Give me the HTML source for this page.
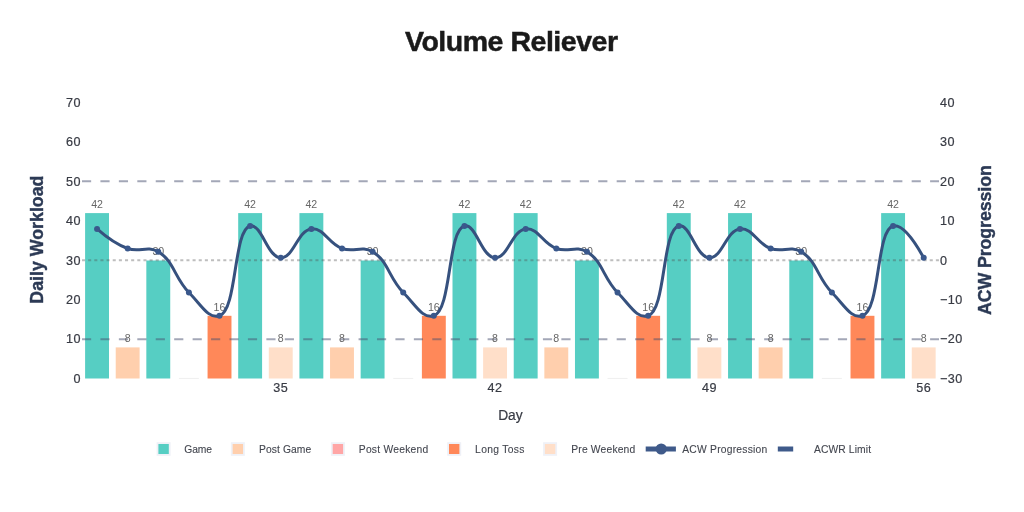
<!DOCTYPE html>
<html lang="en"><head><meta charset="utf-8"><title>Volume Reliever</title>
<style>html,body{margin:0;padding:0;background:#fff;width:1024px;height:512px;overflow:hidden}</style></head>
<body>
<svg width="1024" height="512" viewBox="0 0 1024 512" style="display:block;font-family:'Liberation Sans', Arial, sans-serif">
<rect width="1024" height="512" fill="#fff"/>
<text x="511.5" y="50.8" text-anchor="middle" font-size="28.5" font-weight="700" fill="#1a1a1a" stroke="#1a1a1a" stroke-width="0.5" textLength="213" lengthAdjust="spacing">Volume Reliever</text>
<g><rect x="85.10" y="213.10" width="23.9" height="165.40" fill="#56cec3"/><rect x="115.72" y="347.40" width="23.9" height="31.10" fill="#ffcfad"/><rect x="146.33" y="260.50" width="23.9" height="118.00" fill="#56cec3"/><rect x="178.90" y="377.90" width="20" height="1" fill="#efefef"/><rect x="207.57" y="315.80" width="23.9" height="62.70" fill="#ff8859"/><rect x="238.19" y="213.10" width="23.9" height="165.40" fill="#56cec3"/><rect x="268.80" y="347.40" width="23.9" height="31.10" fill="#ffdfc9"/><rect x="299.42" y="213.10" width="23.9" height="165.40" fill="#56cec3"/><rect x="330.04" y="347.40" width="23.9" height="31.10" fill="#ffcfad"/><rect x="360.65" y="260.50" width="23.9" height="118.00" fill="#56cec3"/><rect x="393.22" y="377.90" width="20" height="1" fill="#efefef"/><rect x="421.89" y="315.80" width="23.9" height="62.70" fill="#ff8859"/><rect x="452.50" y="213.10" width="23.9" height="165.40" fill="#56cec3"/><rect x="483.12" y="347.40" width="23.9" height="31.10" fill="#ffdfc9"/><rect x="513.74" y="213.10" width="23.9" height="165.40" fill="#56cec3"/><rect x="544.35" y="347.40" width="23.9" height="31.10" fill="#ffcfad"/><rect x="574.97" y="260.50" width="23.9" height="118.00" fill="#56cec3"/><rect x="607.54" y="377.90" width="20" height="1" fill="#efefef"/><rect x="636.21" y="315.80" width="23.9" height="62.70" fill="#ff8859"/><rect x="666.82" y="213.10" width="23.9" height="165.40" fill="#56cec3"/><rect x="697.44" y="347.40" width="23.9" height="31.10" fill="#ffdfc9"/><rect x="728.06" y="213.10" width="23.9" height="165.40" fill="#56cec3"/><rect x="758.67" y="347.40" width="23.9" height="31.10" fill="#ffcfad"/><rect x="789.29" y="260.50" width="23.9" height="118.00" fill="#56cec3"/><rect x="821.86" y="377.90" width="20" height="1" fill="#efefef"/><rect x="850.52" y="315.80" width="23.9" height="62.70" fill="#ff8859"/><rect x="881.14" y="213.10" width="23.9" height="165.40" fill="#56cec3"/><rect x="911.76" y="347.40" width="23.9" height="31.10" fill="#ffdfc9"/></g>
<g fill="none">
<path d="M82,181.20H939" stroke="#485070" stroke-opacity="0.5" stroke-width="2" stroke-dasharray="9.15,9.287"/>
<path d="M82,339.20H939" stroke="#485070" stroke-opacity="0.5" stroke-width="2" stroke-dasharray="9.15,9.287"/>
<path d="M82,260.20H939" stroke="#505050" stroke-opacity="0.37" stroke-width="2" stroke-dasharray="3.05,3.093"/>
</g>
<g font-size="10.6" fill="#666666"><text x="97.05" y="207.90" text-anchor="middle">42</text><text x="127.67" y="342.20" text-anchor="middle">8</text><text x="158.28" y="255.30" text-anchor="middle">30</text><text x="219.52" y="310.60" text-anchor="middle">16</text><text x="250.13" y="207.90" text-anchor="middle">42</text><text x="280.75" y="342.20" text-anchor="middle">8</text><text x="311.37" y="207.90" text-anchor="middle">42</text><text x="341.99" y="342.20" text-anchor="middle">8</text><text x="372.60" y="255.30" text-anchor="middle">30</text><text x="433.84" y="310.60" text-anchor="middle">16</text><text x="464.45" y="207.90" text-anchor="middle">42</text><text x="495.07" y="342.20" text-anchor="middle">8</text><text x="525.69" y="207.90" text-anchor="middle">42</text><text x="556.30" y="342.20" text-anchor="middle">8</text><text x="586.92" y="255.30" text-anchor="middle">30</text><text x="648.16" y="310.60" text-anchor="middle">16</text><text x="678.77" y="207.90" text-anchor="middle">42</text><text x="709.39" y="342.20" text-anchor="middle">8</text><text x="740.01" y="207.90" text-anchor="middle">42</text><text x="770.62" y="342.20" text-anchor="middle">8</text><text x="801.24" y="255.30" text-anchor="middle">30</text><text x="862.48" y="310.60" text-anchor="middle">16</text><text x="893.09" y="207.90" text-anchor="middle">42</text><text x="923.71" y="342.20" text-anchor="middle">8</text></g>
<path d="M97.05,228.90Q113.80,243.62 127.67,248.50C140.43,252.99 146.31,245.00 158.28,251.80C173.69,260.55 174.56,278.11 188.90,292.50C201.36,305.00 208.13,319.18 219.52,315.70C237.41,310.23 233.20,229.77 250.13,226.00C261.69,223.43 267.32,257.48 280.75,257.80C293.87,258.11 297.58,230.19 311.37,228.90C324.18,227.70 328.12,243.62 341.99,248.50C354.75,252.99 360.63,245.00 372.60,251.80C388.01,260.55 388.88,278.11 403.22,292.50C415.68,305.00 422.44,319.18 433.84,315.70C451.73,310.23 447.52,229.77 464.45,226.00C476.01,223.43 481.64,257.48 495.07,257.80C508.19,258.11 511.90,230.19 525.69,228.90C538.50,227.70 542.44,243.62 556.30,248.50C569.07,252.99 574.95,245.00 586.92,251.80C602.32,260.55 603.20,278.11 617.54,292.50C630.00,305.00 636.76,319.18 648.16,315.70C666.05,310.23 661.84,229.77 678.77,226.00C690.33,223.43 695.96,257.48 709.39,257.80C722.50,258.11 726.22,230.19 740.01,228.90C752.82,227.70 756.76,243.62 770.62,248.50C783.39,252.99 789.26,245.00 801.24,251.80C816.64,260.55 817.52,278.11 831.86,292.50C844.31,305.00 851.08,319.18 862.48,315.70C880.37,310.23 876.16,229.77 893.09,226.00Q904.65,223.43 923.71,257.80" fill="none" stroke="#36517e" stroke-width="3" stroke-linejoin="round" stroke-linecap="round"/>
<g fill="#3a588c"><circle cx="97.05" cy="228.90" r="3"/><circle cx="127.67" cy="248.50" r="3"/><circle cx="158.28" cy="251.80" r="3"/><circle cx="188.90" cy="292.50" r="3"/><circle cx="219.52" cy="315.70" r="3"/><circle cx="250.13" cy="226.00" r="3"/><circle cx="280.75" cy="257.80" r="3"/><circle cx="311.37" cy="228.90" r="3"/><circle cx="341.99" cy="248.50" r="3"/><circle cx="372.60" cy="251.80" r="3"/><circle cx="403.22" cy="292.50" r="3"/><circle cx="433.84" cy="315.70" r="3"/><circle cx="464.45" cy="226.00" r="3"/><circle cx="495.07" cy="257.80" r="3"/><circle cx="525.69" cy="228.90" r="3"/><circle cx="556.30" cy="248.50" r="3"/><circle cx="586.92" cy="251.80" r="3"/><circle cx="617.54" cy="292.50" r="3"/><circle cx="648.16" cy="315.70" r="3"/><circle cx="678.77" cy="226.00" r="3"/><circle cx="709.39" cy="257.80" r="3"/><circle cx="740.01" cy="228.90" r="3"/><circle cx="770.62" cy="248.50" r="3"/><circle cx="801.24" cy="251.80" r="3"/><circle cx="831.86" cy="292.50" r="3"/><circle cx="862.48" cy="315.70" r="3"/><circle cx="893.09" cy="226.00" r="3"/><circle cx="923.71" cy="257.80" r="3"/></g>
<g font-size="12.6" fill="#383b44" stroke="#383b44" stroke-width="0.2" letter-spacing="0.5" text-anchor="end">
<text x="80.9" y="382.80">0</text>
<text x="80.9" y="343.38">10</text>
<text x="80.9" y="303.96">20</text>
<text x="80.9" y="264.54">30</text>
<text x="80.9" y="225.12">40</text>
<text x="80.9" y="185.70">50</text>
<text x="80.9" y="146.28">60</text>
<text x="80.9" y="106.86">70</text>
</g>
<g font-size="12.6" fill="#383b44" stroke="#383b44" stroke-width="0.2" letter-spacing="0.5" text-anchor="start">
<text x="940" y="382.90">−30</text>
<text x="940" y="343.48">−20</text>
<text x="940" y="304.06">−10</text>
<text x="940" y="264.64">0</text>
<text x="940" y="225.22">10</text>
<text x="940" y="185.80">20</text>
<text x="940" y="146.38">30</text>
<text x="940" y="106.96">40</text>
</g>
<g font-size="12.6" fill="#383b44" stroke="#383b44" stroke-width="0.2" letter-spacing="0.5" text-anchor="middle">
<text x="280.75" y="392.3">35</text>
<text x="495.07" y="392.3">42</text>
<text x="709.39" y="392.3">49</text>
<text x="923.71" y="392.3">56</text>
</g>
<text x="510.4" y="420.3" font-size="13.8" fill="#383b44" stroke="#383b44" stroke-width="0.2" text-anchor="middle">Day</text>
<text transform="translate(43.4,303.7) rotate(-90)" font-size="17.8" font-weight="700" fill="#2c3a55" stroke="#2c3a55" stroke-width="0.4" textLength="128.2" lengthAdjust="spacing">Daily Workload</text>
<text transform="translate(991,315.0) rotate(-90)" font-size="17.8" font-weight="700" fill="#2c3a55" stroke="#2c3a55" stroke-width="0.4" textLength="149.8" lengthAdjust="spacing">ACW Progression</text>
<rect x="156.60" y="442.20" width="14" height="13.6" fill="#eff1f7"/><rect x="158.40" y="444.00" width="10.4" height="10" fill="#56cec3"/><rect x="230.85" y="442.20" width="14" height="13.6" fill="#eff1f7"/><rect x="232.65" y="444.00" width="10.4" height="10" fill="#ffcfad"/><rect x="330.90" y="442.20" width="14" height="13.6" fill="#eff1f7"/><rect x="332.70" y="444.00" width="10.4" height="10" fill="#ffa6a6"/><rect x="447.20" y="442.20" width="14" height="13.6" fill="#eff1f7"/><rect x="449.00" y="444.00" width="10.4" height="10" fill="#ff8859"/><rect x="543.10" y="442.20" width="14" height="13.6" fill="#eff1f7"/><rect x="544.90" y="444.00" width="10.4" height="10" fill="#ffdfc9"/>
<g font-size="10.3" fill="#43464f" stroke="#43464f" stroke-width="0.1">
<text x="184.3" y="452.9" textLength="27.6" lengthAdjust="spacing">Game</text>
<text x="259.1" y="452.9" textLength="52.1" lengthAdjust="spacing">Post Game</text>
<text x="358.8" y="452.9" textLength="69.4" lengthAdjust="spacing">Post Weekend</text>
<text x="475.1" y="452.9" textLength="49.3" lengthAdjust="spacing">Long Toss</text>
<text x="571.25" y="452.9" textLength="64.0" lengthAdjust="spacing">Pre Weekend</text>
<text x="682.25" y="452.9" textLength="85" lengthAdjust="spacing">ACW Progression</text>
<text x="814" y="452.9" textLength="57" lengthAdjust="spacing">ACWR Limit</text>
</g>
<path d="M645.7,449H675.9" stroke="#3f5a8a" stroke-width="5"/><circle cx="661.2" cy="449" r="5.6" fill="#3f5a8a"/>
<path d="M777.8,449H793.2" stroke="#3f5a8a" stroke-width="5"/>
</svg>
</body></html>
